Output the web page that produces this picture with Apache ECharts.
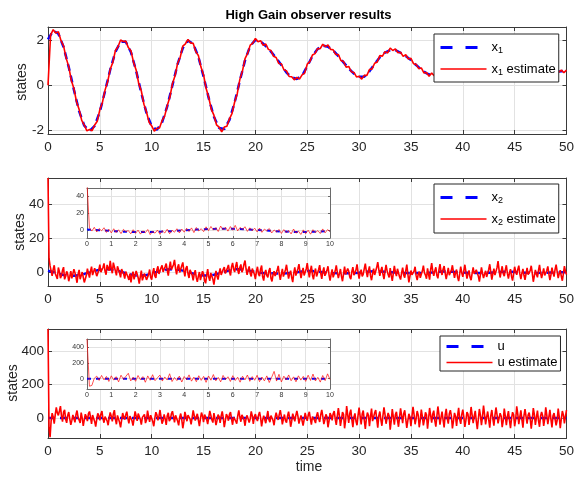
<!DOCTYPE html>
<html><head><meta charset="utf-8">
<script src="https://cdn.jsdelivr.net/npm/echarts@6/dist/echarts.min.js"></script>
<style>html,body{margin:0;padding:0;background:#fff}#c{width:577px;height:478px}</style>
</head><body><div id="c"></div>
<script>
// ---------------- data ----------------
const titleText = 'High Gain observer results';
const yLabel = 'states';
const xLabel = 'time';
const legendNames = ['x1', 'x1 estimate', 'x2', 'x2 estimate', 'u', 'u estimate'];

// x1 (true), sampled every 0.5 s, t = 0..50
const x1Step = 0.5;
const x1True = [
 2.05, 2.44, 2.30, 1.71, 0.81, -0.21, -1.16, -1.81, -2.05, -1.82,
 -1.18, -0.27, 0.69, 1.49, 1.94, 1.94, 1.47, 0.64, -0.35, -1.25,
 -1.84, -1.99, -1.66, -0.94, 0.0, 0.94, 1.66, 1.99, 1.85, 1.27,
 0.39, -0.58, -1.41, -1.91, -1.96, -1.55, -0.77, 0.20, 1.11, 1.76,
 2.02, 1.95, 1.75, 1.5, 1.22, 0.9, 0.56, 0.35, 0.28, 0.42,
 0.85, 1.3, 1.62, 1.77, 1.72, 1.55, 1.3, 1.02, 0.75, 0.52,
 0.38, 0.38, 0.62, 0.95, 1.25, 1.46, 1.57, 1.57, 1.45, 1.3,
 1.12, 0.9, 0.7, 0.53, 0.45, 0.48, 0.7, 1.0, 1.25, 1.38,
 1.4, 1.3, 1.15, 0.95, 0.78, 0.62, 0.55, 0.62, 0.82, 1.05,
 1.2, 1.25, 1.18, 1.05, 0.9, 0.76, 0.66, 0.6, 0.6, 0.62,
 0.65
];
// x1 estimate, every 0.25 s
const x1EstStep = 0.25;
const x1Est = [
 0, 2.24, 2.48, 2.33, 2.39, 2.00, 1.76, 1.21, 0.83, 0.21, -0.15, -0.74, -1.08, -1.57, -1.78, -2.04, -1.98, -2.03, -1.78, -1.61,
 -1.09, -0.77, -0.22, 0.15, 0.71, 1.02, 1.55, 1.72, 2.02, 1.95, 1.97, 1.68, 1.54, 1.02, 0.68, 0.07, -0.26, -0.85, -1.20, -1.66,
 -1.82, -2.05, -1.93, -1.91, -1.58, -1.38, -0.91, -0.54, 0.07, 0.42, 0.98, 1.25, 1.75, 1.85, 2.04, 1.89, 1.87, 1.50, 1.33, 0.81,
 0.47, -0.15, -0.55, -1.08, -1.34, -1.77, -1.87, -2.08, -1.87, -1.83, -1.50, -1.26, -0.75, -0.38, 0.26, 0.63, 1.19, 1.42, 1.79, 1.88,
 2.09, 1.94, 1.99, 1.78, 1.84, 1.60, 1.55, 1.29, 1.24, 0.97, 0.96, 0.69, 0.64, 0.39, 0.38, 0.24, 0.35, 0.27, 0.46, 0.54,
 0.94, 1.05, 1.35, 1.41, 1.64, 1.63, 1.83, 1.72, 1.80, 1.60, 1.58, 1.37, 1.37, 1.10, 1.06, 0.80, 0.84, 0.60, 0.57, 0.37,
 0.40, 0.27, 0.44, 0.44, 0.70, 0.73, 0.98, 1.04, 1.32, 1.30, 1.50, 1.44, 1.66, 1.55, 1.62, 1.45, 1.47, 1.29, 1.36, 1.17,
 1.20, 0.96, 0.93, 0.74, 0.77, 0.55, 0.57, 0.40, 0.54, 0.42, 0.53, 0.51, 0.72, 0.76, 1.06, 1.09, 1.33, 1.27, 1.41, 1.34,
 1.47, 1.30, 1.34, 1.15, 1.24, 1.02, 1.00, 0.79, 0.80, 0.61, 0.68, 0.53, 0.63, 0.52, 0.65, 0.65, 0.89, 0.88, 1.09, 1.05,
 1.29, 1.20, 1.30, 1.15, 1.20, 1.03, 1.11, 0.94, 0.98, 0.78, 0.79, 0.65, 0.73, 0.57, 0.64, 0.52, 0.69, 0.58, 0.67, 0.56,
 0.67
];

// x2 (true), every 0.5 s
const x2Step = 0.5;
const x2True = [
 1.0, 0.2, -0.75, -1.5, -1.9, -2.0, -1.65, -0.9, 0.0, 0.9,
 1.6, 1.9, 1.8, 1.25, 0.45, -0.45, -1.3, -1.85, -1.9, -1.5,
 -0.75, 0.3, 1.05, 1.7, 1.9, 1.65, 1.05, 0.3, -0.7, -1.45,
 -1.85, -1.8, -1.35, -0.55, 0.35, 1.2, 1.75, 1.9, 1.55, 0.9,
 0.2, -0.27, -0.45, -0.53, -0.6, -0.66, -0.55, -0.28, 0.07, 0.57,
 0.88, 0.77, 0.47, 0.1, -0.22, -0.42, -0.53, -0.55, -0.5, -0.37,
 -0.14, 0.24, 0.57, 0.63, 0.51, 0.32, 0.11, -0.12, -0.27, -0.33,
 -0.4, -0.42, -0.37, -0.25, -0.05, 0.25, 0.52, 0.55, 0.38, 0.15,
 -0.08, -0.25, -0.35, -0.37, -0.33, -0.23, 0.0, 0.27, 0.43, 0.38,
 0.2, -0.02, -0.2, -0.28, -0.29, -0.24, -0.16, -0.06, 0.02, 0.05,
 0.06
];
// x2 estimate, every 0.1 s
const x2EstStep = 0.1;
const x2Est = [
 55.5, 8.2, 3.8, 0.9, -2.1, 1.7, 4.2, -0.6, -1.5, -3.8, 2.9, 0.4, -3.4, -1.9, 1.2, 3.1, -4.1, -2.2, 0.6, -1.0,
 -5.2, -2.4, 0.8, -3.5, -4.6, 1.9, -0.3, -2.8, -6.1, -1.2, 1.5, -4.0, -3.8, 0.2, -0.9, -5.9, -5.5, -1.7, 2.2, -0.5,
 -3.1, 0.7, 3.4, -1.6, -2.7, 2.5, 1.8, -2.2, -1.2, 1.3, 4.6, 0.1, -0.8, 2.9, 5.3, 0.6, -1.4, 4.4, 3.9, 1.0,
 6.8, 2.3, -0.5, 5.7, 4.9, 0.8, -1.7, 3.6, 3.2, -0.4, -2.9, 1.9, 2.6, -1.1, -3.6, 0.5, 1.1, -2.6, -4.4, -0.7,
 -5.9, -2.0, 0.4, -4.1, -4.8, 0.9, -1.1, -3.3, -6.6, -2.5, 1.0, -4.7, -3.9, -0.6, -0.2, -4.4, -5.1, -1.3, 1.7, -2.9,
 -4.3, -0.1, 2.5, -2.0, -3.2, 1.4, 3.6, -0.9, -1.6, 2.7, 4.1, 0.3, -0.7, 3.4, 5.2, 1.2, -1.9, 2.8, 6.3, 1.6,
 0.9, 4.5, 7.4, 2.2, -1.2, 3.0, 4.8, 0.0, 0.3, 3.9, 5.9, 1.1, -2.3, 2.4, 3.7, -0.8, -3.3, 1.5, 2.0, -1.6,
 -4.7, -0.9, 1.3, -3.1, -5.6, -2.2, 0.2, -4.5, -3.5, 0.7, -0.8, -4.9, -6.4, -1.7, 1.9, -2.8, -5.0, -0.3, -1.3, -4.0,
 -7.2, -3.0, 0.9, -2.3, -4.2, -0.4, 2.4, -1.5, -2.6, 1.8, 3.1, -0.7, -1.0, 2.6, 4.4, 0.4, -1.8, 3.2, 5.6, 1.9,
 0.2, 3.6, 6.1, 1.4, -0.9, 2.9, 4.7, 0.1, 1.6, 4.8, 7.0, 2.0, -1.5, 1.3, 3.5, -0.6, -2.4, 2.3, 2.8, -1.1,
 -3.9, 0.6, 3.3, -1.0, -2.2, 1.9, 4.0, -2.6, -4.8, -0.5, 1.4, -1.8, -3.0, 0.8, 2.6, -3.4, -5.3, -1.4, 0.7, -2.1,
 -2.8, 1.2, 3.8, -0.8, -4.4, -1.0, 2.1, -2.5, -1.7, 1.6, 4.5, 0.2, -3.6, -0.9, 1.0, -3.0, -5.7, -0.4, 3.0, -1.9,
 -2.0, 2.2, 4.9, 0.4, -3.3, -0.1, 2.7, -1.8, -1.1, 2.0, 5.4, 1.0, -2.9, 0.9, 3.9, -1.5, -4.1, -0.2, 2.3, -2.4,
 -1.4, 1.7, 4.3, -0.5, -3.8, 0.3, 2.9, -2.0, -0.6, 1.2, 3.6, -1.4, -4.9, -1.2, 1.8, -2.9, -2.7, 0.9, 4.1, 0.0,
 -3.4, -0.7, 2.0, -2.3, -5.2, -0.9, 3.4, -1.2, -1.9, 2.3, 0.8, -2.7, -4.0, 0.4, 3.1, -1.6, -2.5, 1.5, 4.7, 0.1,
 -3.7, -0.4, 1.6, -2.4, -1.0, 2.2, 5.1, 0.5, -2.8, 1.0, 3.5, -1.9, -4.6, -0.8, 2.2, -1.5, -0.4, 3.0, 6.0, 1.8,
 -2.1, 1.0, 3.2, -1.1, -3.9, 0.6, 4.4, 0.9, -1.3, -3.0, 2.5, -1.8, -5.0, -0.6, 3.8, 0.1, -2.2, 2.1, 1.4, -2.6,
 -4.2, -0.3, 2.8, -1.5, -3.1, 1.1, 4.6, -0.9, -5.9, -2.3, 1.1, -1.4, -2.4, 0.7, 3.3, -1.9, -4.5, -1.1, 0.5, -3.2,
 -3.0, 0.8, 4.0, -0.3, -1.6, -3.7, 2.4, -1.2, -4.3, 1.6, 5.5, 0.7, -2.0, 0.9, 3.0, -1.8, -3.5, 1.4, 4.8, 0.6,
 -1.5, 1.9, 3.7, -0.4, -4.0, -0.7, 2.6, -1.6, -2.3, 1.3, 4.2, 0.2, -3.2, -0.1, 1.7, -2.8, -5.1, -0.9, 3.4, -0.3,
 -2.6, 0.9, 4.5, 0.3, -3.7, -1.0, 1.2, -2.9, -4.6, -0.6, 3.0, -0.8, -1.8, 1.5, 2.5, -2.2, -5.4, -1.3, 2.9, -0.5,
 -3.3, -1.0, 0.9, -2.7, -2.1, 1.7, 4.8, 0.1, -4.2, -0.9, 2.2, -1.6, -1.0, 2.8, 6.6, 1.3, -3.0, 0.5, 3.6, -0.8,
 -2.2, 1.3, 4.2, -0.6, -3.6, -0.2, 1.9, -2.4, -4.8, -0.7, 3.3, 0.4, -1.4, 1.6, 4.0, -0.9, -3.9, -0.5, 2.1, -1.7,
 -4.4, -0.8, 2.7, -1.3, -2.0, 1.0, 3.9, -0.4, -5.5, -2.1, 1.5, -1.1, -2.9, 1.2, 4.4, -0.2, -3.4, -0.6, 2.4, -1.8,
 -1.9, 1.1, 3.5, -0.9, -4.6, -1.4, 2.8, -0.3, -2.5, 1.8, 4.6, 0.5, -3.3, -0.7, 1.3, -2.3, -4.9, -0.8, 3.7, 0.6,
 -1.2
];
// x2 estimate, inset view 0..10 s, every 0.1 s
const x2InsetStep = 0.1;
const x2InsetEst = [
 55.5, 2.9, -0.8, 3.6, -1.9, 2.2, -0.5, 3.1, -2.4, 1.4,
 -3.0, 1.9, -2.6, 0.7, -3.8, 1.2, -1.6, -0.2, -4.1, 0.8,
 -3.5, 0.3, -4.4, -0.6, -2.8, 1.0, -5.0, -1.1, -3.3, 0.4,
 -4.6, -0.4, -3.1, 1.3, -3.9, 0.2, -2.2, 1.9, -3.0, 1.6,
 -2.1, 2.5, -1.4, 2.9, -2.6, 3.4, -0.7, 2.0, -1.5, 4.2,
 -0.4, 4.6, 0.3, 3.2, -1.3, 5.1, 0.6, 3.7, -0.9, 4.5,
 0.2, 5.9, -0.6, 3.5, 0.9, 4.3, -1.2, 3.0, -0.4, 2.6,
 -1.8, 2.7, -2.3, 1.5, -0.6, 2.2, -3.1, 0.5, -2.0, 1.1,
 -3.6, 0.9, -2.7, -0.1, -4.2, 1.6, -3.3, -0.8, -4.8, 0.6,
 -3.9, 0.2, -4.5, 0.8, -2.6, -0.3, -3.7, 1.7, -2.9, 0.9,
 -1.5
];

// u (true), every 5 s
const uStep = 5;
const uTrue = [0, 0, 0, 0, 0, 0, 0, 0, 0, 0, 0];
// u estimate, every 0.1 s
const uEstStep = 0.1;
const uEst = [
 530, -60, -115, -20, 28, 5, -34, 19, 62, 30, 15, 41, 70, 12, -22, 35, 48, -8, -30, 14,
 35, -6, -41, -15, 18, 9, -27, 20, 44, 3, -12, -30, 31, -2, -48, -11, 22, 6, -19, 25,
 38, 4, -36, 17, 9, -21, -52, -9, 27, 13, -15, 22, 41, -4, -29, 8, 14, -18, -44, 2,
 33, 10, -21, 24, 46, -7, -38, 15, 12, -26, -57, -14, 29, 6, -10, 19, 37, -3, -33, 11,
 20, -17, -46, -5, 39, 12, -18, 26, 25, -9, -40, 3, 8, 21, -31, -12, 43, 7, -24, 16,
 16, -22, -50, -3, 34, 18, -14, 9, 47, 5, -35, -16, 21, -6, -42, 13, 30, -20, -8, 24,
 40, 8, -27, 15, 13, -19, -45, 4, 26, -11, -62, -24, 36, 10, -20, 17, 11, -8, -39, 2,
 45, 14, -16, 6, 24, -13, -49, -4, 32, 11, -25, 20, 17, -9, -37, 3, 42, 16, -11, -28,
 28, -5, -43, -14, 19, 7, -30, 12, 38, 1, -55, -18, 23, 9, -17, 21, 34, -7, -41, 4,
 10, -19, -34, 13, 44, 5, -23, 18, 27, -10, -47, -2, 15, 24, -28, -6, 39, 11, -36, 8,
 22, -4, -19, 16, 35, 2, -51, -12, 13, 20, -32, 6, 41, -9, -26, 14, 18, -15, -44, 3,
 31, 7, -12, 19, 46, 10, -39, -8, 20, -17, -29, 12, 37, -2, -53, -20, 25, 4, -21, 15,
 42, 11, -34, -6, 14, 22, -46, -10, 30, 3, -18, 17, 36, -5, -40, 8, 9, -14, -31, 13,
 33, -3, -24, 18, 47, 9, -37, -12, 21, 6, -56, -19, 28, 14, -15, 25, 40, -8, -42, 10,
 58, 12, -48, -9, 35, 21, -62, -15, 70, 18, -30, 26, 49, -11, -55, 4, 27, -20, -44, 15,
 61, 9, -39, 23, 44, -14, -66, -5, 32, 16, -50, 8, 55, -19, -28, 30, 47, -7, -58, 12,
 38, -10, -47, 14, 63, 20, -35, -2, 29, 11, -71, -17, 52, 6, -41, 19, 36, -12, -53, 3,
 57, 13, -32, 25, 45, -8, -60, -16, 24, 5, -49, 10, 66, 21, -38, -4, 41, 17, -56, -13,
 50, 7, -45, -10, 33, 18, -64, -6, 59, 14, -29, 22, 43, -15, -52, 9, 68, 20, -40, 2,
 37, -12, -57, 16, 54, -3, -34, 25, 46, 11, -63, -20, 30, 8, -48, 13, 60, -9, -36, 19,
 49, 6, -54, -14, 35, 22, -42, 3, 65, 17, -31, 10, 42, -18, -67, -7, 53, 15, -44, 8,
 74, 19, -39, 4, 38, -11, -58, 12, 47, -6, -46, 15, 62, 20, -33, -2, 28, 9, -55, -16,
 56, 11, -43, 7, 40, -13, -61, -4, 34, 18, -50, -9, 69, 24, -37, 6, 45, -10, -59, 14,
 52, 8, -35, 17, 31, -5, -64, -12, 58, 21, -42, 3, 44, -16, -53, 10, 36, 13, -48, -8,
 63, 16, -38, 5, 48, -9, -57, 12, 29, 20, -45, -14, 55, 7, -62, -6, 41, 18, -33, 9,
 46
];
// u estimate, inset view 0..10 s, every 0.1 s
const uInsetStep = 0.1;
const uInsetEst = [
 500, -95, -85, 5, 32, -22, 41, -15, 28, -35,
 36, -18, 25, -40, 44, -9, 30, 68, -28, 19,
 -33, 40, -14, 26, -45, 35, -20, 50, -25, 12,
 45, -30, 22, -17, 62, -36, 15, -24, 33, -42,
 27, -13, 48, -31, 20, -38, 37, -21, 29, -46,
 34, -19, 52, -27, 16, -40, 41, -12, 24, -35,
 38, -23, 19, -44, 31, -16, 46, -33, 26, -20,
 43, -37, 21, -28, 35, -48, 18, 92, -30, 55,
 -41, 32, -15, 47, -26, 23, -39, 36, -18, 29,
 -34, 44, -22, 58, -29, 17, -43, 40, -24, 61,
 -10
];

// axis ranges
const mainX = [0, 50], mainXInterval = 5;
const insetX = [0, 10], insetXInterval = 1;
const yRange1 = [-2.18, 2.6];
const yRange2 = [-8, 55.5];
const yRange3 = [-120, 530];
const yRangeInset2 = [-9, 50];
const yRangeInset3 = [-130, 500];

// ---------------- chart ----------------
const FONT = '"Liberation Sans", Arial, Helvetica, sans-serif';
const frameC = '#3a3a3a';
const gridC = '#e2e2e2';
const pairs = (arr, step, maxT) => {
  const out = [];
  arr.forEach((v, i) => { const t = +(i * step).toFixed(4); if (maxT === undefined || t <= maxT + 1e-9) out.push([t, v]); });
  return out;
};

const grids = [
  { left: 48, top: 27, width: 521, height: 107 },
  { left: 48, top: 178, width: 521, height: 108 },
  { left: 48, top: 329, width: 521, height: 109 },
  { left: 87, top: 188, width: 243, height: 50, show: true, backgroundColor: '#fff', borderWidth: 0, z: 10 },
  { left: 87, top: 339, width: 243, height: 50, show: true, backgroundColor: '#fff', borderWidth: 0, z: 10 }
];

function xAxisDef(g, range, interval, isInset, top) {
  return {
    type: 'value', gridIndex: g, min: range[0], max: range[1], interval: interval,
    position: top ? 'top' : 'bottom', z: isInset ? 11 : 0,
    axisLine: { show: true, onZero: false, lineStyle: { color: isInset ? '#6a6a6a' : frameC, width: 1 } },
    axisTick: { show: true, inside: true, length: isInset ? 2 : 4, lineStyle: { color: isInset ? '#6a6a6a' : frameC } },
    axisLabel: { show: !top, fontFamily: FONT, fontSize: isInset ? 7 : 13.5, color: isInset ? '#333' : '#262626', margin: isInset ? 3 : 6 },
    splitLine: { show: !top, showMinLine: false, showMaxLine: false, lineStyle: { color: gridC, width: 1 } }
  };
}
function yAxisDef(g, range, isInset, right) {
  return {
    type: 'value', gridIndex: g, min: range[0], max: range[1], splitNumber: range === yRange1 ? 2 : 3,
    position: right ? 'right' : 'left', z: isInset ? 11 : 0,
    axisLine: { show: true, onZero: false, lineStyle: { color: isInset ? '#6a6a6a' : frameC, width: 1 } },
    axisTick: { show: true, inside: true, length: isInset ? 2 : 4, lineStyle: { color: isInset ? '#6a6a6a' : frameC } },
    axisLabel: { show: !right, showMinLabel: false, showMaxLabel: false, fontFamily: FONT, fontSize: isInset ? 7 : 13.5, color: isInset ? '#333' : '#262626', margin: isInset ? 3 : 4 },
    splitLine: { show: !right, showMinLine: false, showMaxLine: false, lineStyle: { color: gridC, width: 1 } }
  };
}

const xAxes = [
  xAxisDef(0, mainX, mainXInterval, false, false),
  xAxisDef(1, mainX, mainXInterval, false, false),
  xAxisDef(2, mainX, mainXInterval, false, false),
  xAxisDef(3, insetX, insetXInterval, true, false),
  xAxisDef(4, insetX, insetXInterval, true, false),
  xAxisDef(0, mainX, mainXInterval, false, true),
  xAxisDef(1, mainX, mainXInterval, false, true),
  xAxisDef(2, mainX, mainXInterval, false, true),
  xAxisDef(3, insetX, insetXInterval, true, true),
  xAxisDef(4, insetX, insetXInterval, true, true)
];
const yAxes = [
  yAxisDef(0, yRange1, false, false),
  yAxisDef(1, yRange2, false, false),
  yAxisDef(2, yRange3, false, false),
  yAxisDef(3, yRangeInset2, true, false),
  yAxisDef(4, yRangeInset3, true, false),
  yAxisDef(0, yRange1, false, true),
  yAxisDef(1, yRange2, false, true),
  yAxisDef(2, yRange3, false, true),
  yAxisDef(3, yRangeInset2, true, true),
  yAxisDef(4, yRangeInset3, true, true)
];

const BLUE = '#0000ff', RED = '#ff0000';
function trueSeries(name, idx, data, inset) {
  return { name: name, type: 'line', xAxisIndex: idx, yAxisIndex: idx, data: data, symbol: 'none', silent: true,
    z: inset ? 12 : 2, lineStyle: { color: BLUE, width: inset ? 2 : 2.5, type: inset ? [4, 5] : [7, 5] }, itemStyle: { color: BLUE } };
}
function estSeries(name, idx, data, inset, w) {
  return { name: name, type: 'line', xAxisIndex: idx, yAxisIndex: idx, data: data, symbol: 'none', silent: true,
    z: inset ? 13 : 3, lineStyle: { color: RED, width: w, opacity: inset ? 0.85 : 1 }, itemStyle: { color: RED } };
}

const series = [
  trueSeries(legendNames[0], 0, pairs(x1True, x1Step), false),
  estSeries(legendNames[1], 0, pairs(x1Est, x1EstStep), false, 1.6),
  trueSeries(legendNames[2], 1, pairs(x2True, x2Step), false),
  estSeries(legendNames[3], 1, pairs(x2Est, x2EstStep), false, 1.6),
  trueSeries(legendNames[4], 2, pairs(uTrue, uStep), false),
  estSeries(legendNames[5], 2, pairs(uEst, uEstStep), false, 1.6),
  trueSeries('x2 inset', 3, pairs(x2True, x2Step, 10), true),
  estSeries('x2 estimate inset', 3, pairs(x2InsetEst, x2InsetStep, 10), true, 0.8),
  trueSeries('u inset', 4, pairs(uTrue, uStep, 10), true),
  estSeries('u estimate inset', 4, pairs(uInsetEst, uInsetStep, 10), true, 0.8)
];

const rich = {
  t: { fontFamily: FONT, fontSize: 13, color: '#000', lineHeight: 16 },
  s: { fontFamily: FONT, fontSize: 9, color: '#000', lineHeight: 9, verticalAlign: 'bottom' }
};
function fmt(name) {
  const m = name.match(/^x(\d)( estimate)?$/);
  if (m) return '{t|x}{s|' + m[1] + '}' + (m[2] ? '{t|' + m[2] + '}' : '');
  return '{t|' + name + '}';
}
function legendDef(names, left, top, gap, pad) {
  return {
    data: [
      { name: names[0], itemStyle: { opacity: 0 }, lineStyle: { type: [12, 13], width: 3, color: BLUE } },
      { name: names[1], itemStyle: { opacity: 0 }, lineStyle: { width: 1.5, color: RED } }
    ],
    orient: 'vertical', left: left, top: top, itemWidth: 46, itemHeight: 14, itemGap: gap,
    padding: pad, backgroundColor: '#fff', borderColor: '#262626', borderWidth: 1, borderRadius: 0,
    selectedMode: false, z: 20, formatter: fmt,
    textStyle: { fontFamily: FONT, fontSize: 13, color: '#000', rich: rich }
  };
}

const option = {
  animation: false,
  backgroundColor: '#fff',
  grid: grids,
  xAxis: xAxes,
  yAxis: yAxes,
  series: series,
  legend: [
    legendDef([legendNames[0], legendNames[1]], 434, 34, 7, [7, 3, 5, 5]),
    legendDef([legendNames[2], legendNames[3]], 434, 184, 7, [7, 3, 6, 5]),
    legendDef([legendNames[4], legendNames[5]], 440, 336, 3, [4, 3, 2, 5])
  ],
  graphic: [
    { type: 'text', x: 308.5, y: 15, z: 30, style: { text: titleText, align: 'center', verticalAlign: 'middle', font: 'bold 13px ' + FONT, fill: '#000' } },
    { type: 'text', x: 309, y: 467, z: 30, style: { text: xLabel, align: 'center', verticalAlign: 'middle', font: '14px ' + FONT, fill: '#262626' } },
    { type: 'text', x: 22, y: 82, rotation: Math.PI / 2, z: 30, style: { text: yLabel, align: 'center', verticalAlign: 'middle', font: '14px ' + FONT, fill: '#262626' } },
    { type: 'text', x: 20, y: 232, rotation: Math.PI / 2, z: 30, style: { text: yLabel, align: 'center', verticalAlign: 'middle', font: '14px ' + FONT, fill: '#262626' } },
    { type: 'text', x: 13, y: 383, rotation: Math.PI / 2, z: 30, style: { text: yLabel, align: 'center', verticalAlign: 'middle', font: '14px ' + FONT, fill: '#262626' } }
  ]
};

const chart = echarts.init(document.getElementById('c'), null, { renderer: 'canvas' });
chart.setOption(option);
</script>
</body></html>
